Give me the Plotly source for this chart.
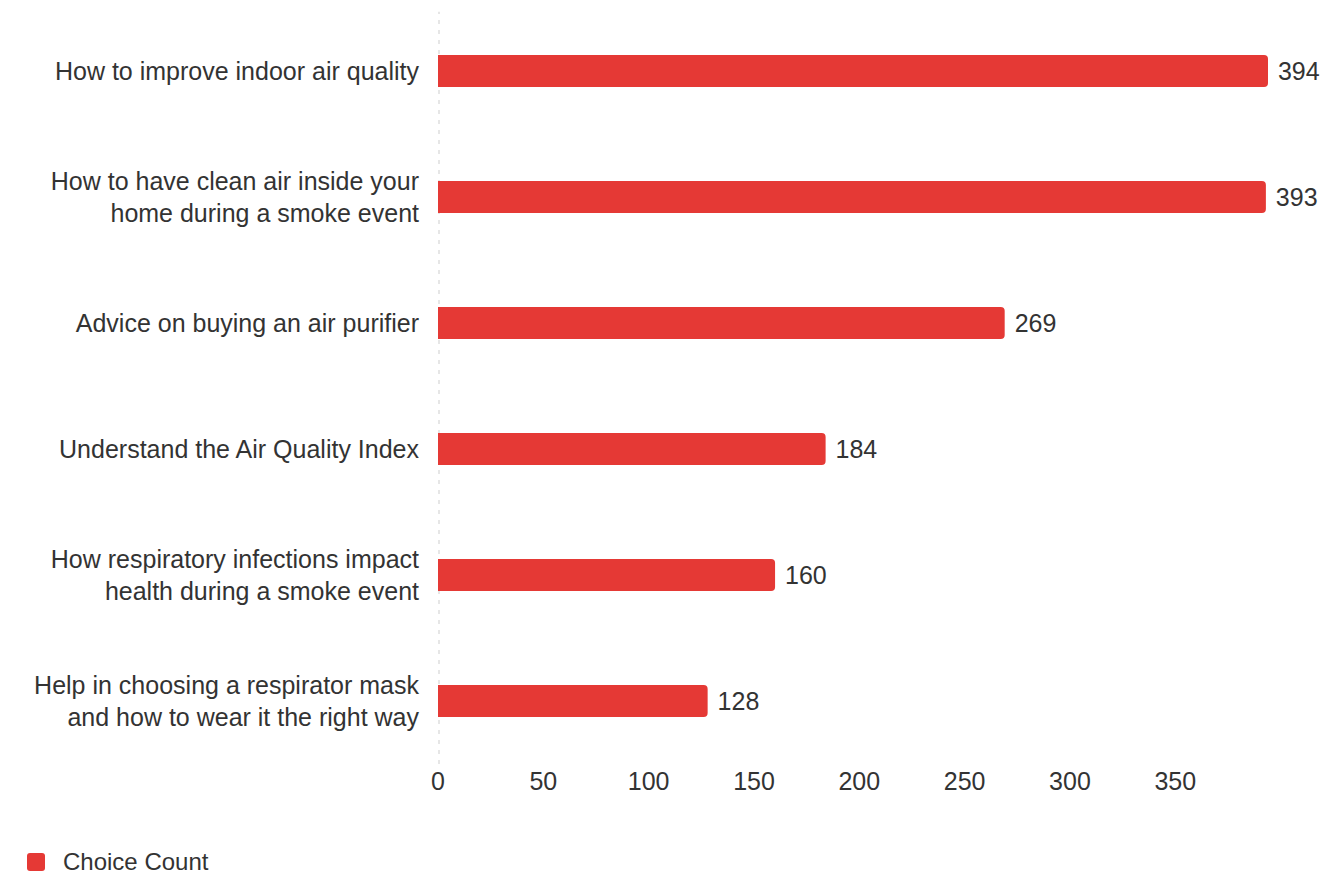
import plotly.graph_objects as go

# Survey topics (top to bottom) and how many respondents picked each
topics = [
    "How to improve indoor air quality",
    "How to have clean air inside your<br>home during a smoke event",
    "Advice on buying an air purifier",
    "Understand the Air Quality Index",
    "How respiratory infections impact<br>health during a smoke event",
    "Help in choosing a respirator mask<br>and how to wear it the right way",
]
choice_counts = [394, 393, 269, 184, 160, 128]
x_ticks = [0, 50, 100, 150, 200, 250, 300, 350]
series_name = "Choice Count"

BAR_RED = "#e53935"
TEXT = "#333333"
FONT = "Liberation Sans, Arial, sans-serif"
FS = 25

W, H = 1335, 875
M_L, M_R, M_T, M_B = 438, 67, 8, 111
PW, PH = W - M_L - M_R, H - M_T - M_B


def px_to_paper(px, py):
    """Convert page pixel coordinates into paper coordinates."""
    return (px - M_L) / PW, (H - M_B - py) / PH


fig = go.Figure(
    go.Bar(
        x=choice_counts,
        y=topics,
        orientation="h",
        name=series_name,
        marker=dict(color=BAR_RED, line=dict(width=0)),
        texttemplate=" %{x}",
        textposition="outside",
        textfont=dict(size=FS, color=TEXT, family=FONT),
        cliponaxis=False,
        hoverinfo="x+y",
        showlegend=False,
    )
)

# dotted baseline at zero
fig.add_shape(
    type="line", xref="x", yref="paper",
    x0=0, x1=0, y0=0, y1=0.995,
    line=dict(color="#e6e6e6", width=4, dash="4px,6px"),
    layer="below",
)

# legend swatch (rounded square) and label below the chart
x0, y0 = px_to_paper(27, 871)
x1, y1 = px_to_paper(45, 853)
rx, ry = 3 / PW, 3 / PH
swatch = (
    f"M{x0 + rx},{y0} L{x1 - rx},{y0} Q{x1},{y0} {x1},{y0 + ry} "
    f"L{x1},{y1 - ry} Q{x1},{y1} {x1 - rx},{y1} "
    f"L{x0 + rx},{y1} Q{x0},{y1} {x0},{y1 - ry} "
    f"L{x0},{y0 + ry} Q{x0},{y0} {x0 + rx},{y0} Z"
)
fig.add_shape(
    type="path", xref="paper", yref="paper", path=swatch,
    fillcolor=BAR_RED, line=dict(width=0),
)
lx, ly = px_to_paper(61, 862)
fig.add_annotation(
    text=series_name, xref="paper", yref="paper", x=lx, y=ly,
    xanchor="left", yanchor="middle", showarrow=False,
    font=dict(size=24, color=TEXT, family=FONT),
)

fig.update_layout(
    width=W, height=H,
    margin=dict(l=M_L, r=M_R, t=M_T, b=M_B, autoexpand=False),
    paper_bgcolor="white", plot_bgcolor="white",
    font=dict(family=FONT, size=FS, color=TEXT),
    bargap=0.746,
    barcornerradius=4,
    showlegend=False,
    xaxis=dict(
        range=[0, 394],
        tickvals=x_ticks,
        showgrid=False, zeroline=False, showline=False,
        ticks="", tickfont=dict(size=FS, color=TEXT),
        fixedrange=True,
    ),
    yaxis=dict(
        autorange="reversed",
        showgrid=False, zeroline=False, showline=False,
        ticks="", ticklabelstandoff=18,
        tickfont=dict(size=FS, color=TEXT),
        fixedrange=True,
    ),
)

fig.write_html("out.html")
